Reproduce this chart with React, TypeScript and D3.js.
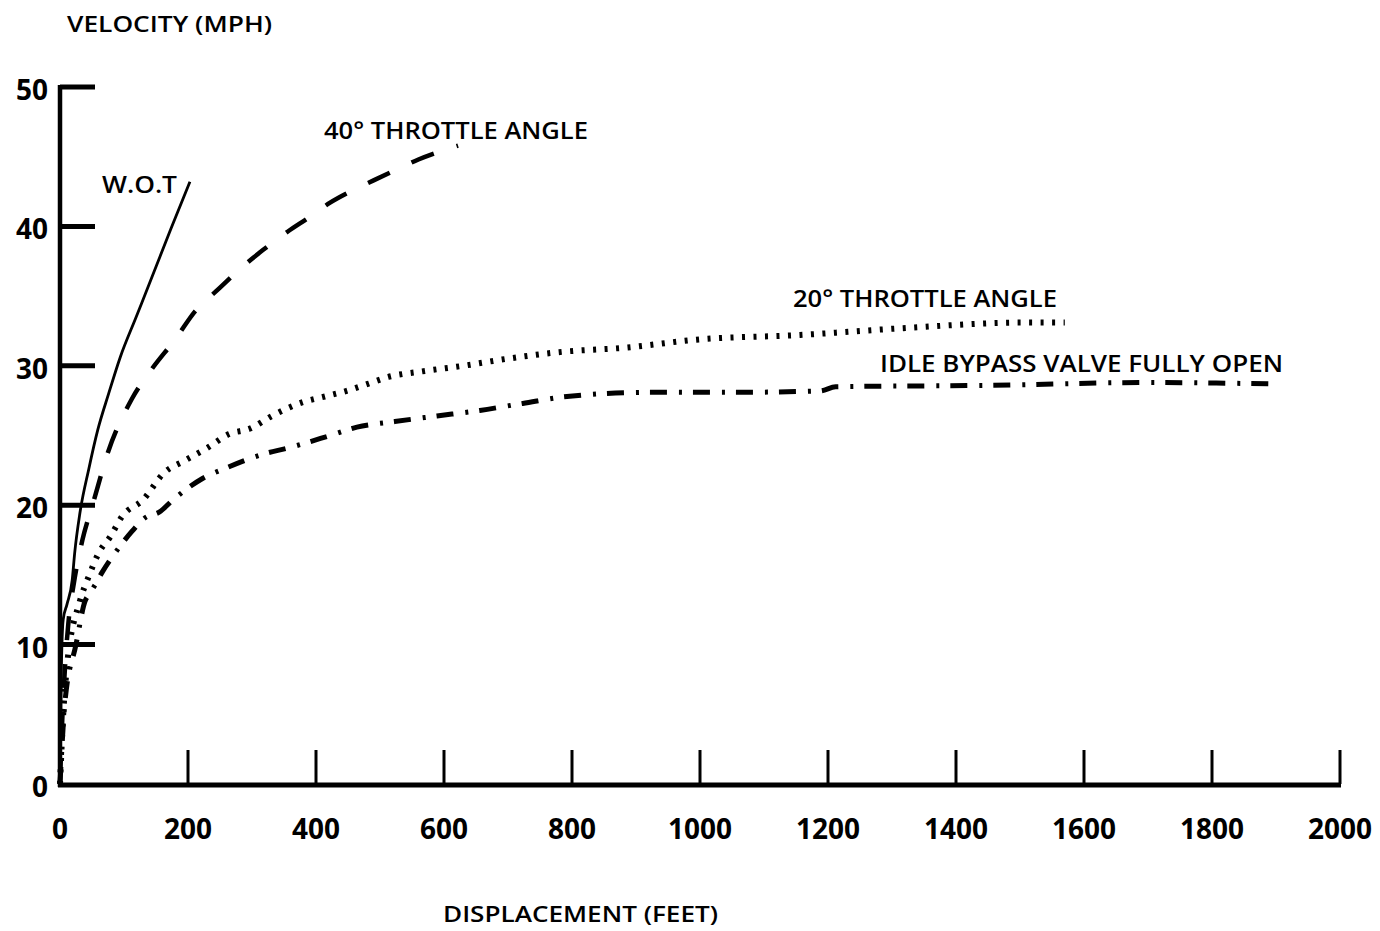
import React from "react";
import * as d3 from "d3";

// ---- data ----
const xTickValues = [0, 200, 400, 600, 800, 1000, 1200, 1400, 1600, 1800, 2000];
const yTickValues = [0, 10, 20, 30, 40, 50];

const wotX = [0, 1, 2, 5, 11, 19, 23, 31, 45, 59, 76, 94, 119, 144, 173, 203];
const wotY = [0, 4, 8, 11.8, 12.9, 14.6, 16.6, 19.4, 22.6, 25.4, 28.0, 30.6, 33.5, 36.4, 39.8, 43.2];

const t40X = [0, 3, 8, 13, 22, 35, 52, 75, 112, 144, 180, 211, 250, 280, 317, 355, 391, 422, 458, 490, 527, 560, 595, 622];
const t40Y = [0, 4, 8.5, 11.5, 14.5, 17.5, 20.2, 23.8, 27.6, 29.8, 31.9, 33.9, 35.6, 36.9, 38.3, 39.6, 40.7, 41.7, 42.6, 43.3, 44.1, 44.8, 45.4, 45.8];

const t20X = [0, 5, 11, 31, 45, 62, 78, 97, 130, 162, 195, 230, 264, 297, 331, 380, 414, 448, 481, 513, 566, 630, 698, 784, 883, 1000, 1152, 1317, 1505, 1570];
const t20Y = [0, 5, 8.5, 13.1, 14.9, 16.7, 17.7, 19.2, 20.4, 22.3, 23.2, 24.1, 25.1, 25.5, 26.4, 27.4, 27.8, 28.2, 28.7, 29.2, 29.6, 30.0, 30.5, 31.0, 31.3, 31.9, 32.2, 32.7, 33.1, 33.1];

const idleX = [0, 8, 25, 39, 47, 55, 66, 88, 112, 133, 155, 177, 222, 261, 320, 356, 422, 464, 523, 589, 656, 723, 792, 925, 1060, 1188, 1212, 1458, 1692, 1898];
const idleY = [0, 6, 10, 13.1, 13.7, 14.3, 15.2, 16.7, 18.1, 19.1, 19.5, 20.4, 21.9, 22.7, 23.7, 24.1, 25.0, 25.6, 26.0, 26.4, 26.8, 27.3, 27.8, 28.1, 28.1, 28.2, 28.5, 28.6, 28.8, 28.7];

const seriesNames = ["W.O.T", "40° THROTTLE ANGLE", "20° THROTTLE ANGLE", "IDLE BYPASS VALVE FULLY OPEN"];
const xTitle = "DISPLACEMENT (FEET)";
const yTitle = "VELOCITY (MPH)";

// ---- layout ----
const W = 1380;
const H = 931;
const FONT = "'Open Sans', 'Noto Sans', sans-serif";

const x = d3.scaleLinear().domain([0, 2000]).range([60, 1340]);
const y = d3.scaleLinear().domain([0, 50]).range([784, 87]);

const zip = (xs: number[], ys: number[]) => xs.map((v, i) => [v, ys[i]] as [number, number]);

const lineGen = d3
  .line<[number, number]>()
  .x((d) => x(d[0]))
  .y((d) => y(d[1]))
  .curve(d3.curveMonotoneX);

const seriesStyles = [
  { data: zip(wotX, wotY), width: 2.8, dash: "none" },
  { data: zip(t40X, t40Y), width: 4.5, dash: "24 24" },
  { data: zip(t20X, t20Y), width: 6, dash: "3 8.5" },
  { data: zip(idleX, idleY), width: 5, dash: "17 12 3 11" },
];

// label placement (left x px, baseline y px, target width px)
const labelLayout = [
  { left: 102, base: 193, w: 75 },
  { left: 324, base: 139, w: 264 },
  { left: 793, base: 307, w: 264 },
  { left: 880, base: 372, w: 403 },
];

export default function App() {
  return (
    <svg
      width={W}
      height={H}
      style={{ position: "absolute", left: 0, top: 0, background: "#fff" }}
      fontFamily={FONT}
    >
      <rect x={0} y={0} width={W} height={H} fill="#fff" />

      {/* axes */}
      <line x1={x(0)} y1={y(50) - 2} x2={x(0)} y2={y(0) + 3} stroke="#000" strokeWidth={4.5} />
      <line x1={x(0) - 2} y1={y(0) + 1} x2={x(2000) + 1} y2={y(0) + 1} stroke="#000" strokeWidth={5} />

      {yTickValues.filter((v) => v > 0).map((v) => (
        <line key={"yt" + v} x1={x(0)} x2={x(0) + 35} y1={y(v)} y2={y(v)} stroke="#000" strokeWidth={5} />
      ))}
      {xTickValues.filter((v) => v > 0).map((v) => (
        <line key={"xt" + v} x1={x(v)} x2={x(v)} y1={y(0) - 34} y2={y(0)} stroke="#000" strokeWidth={3} />
      ))}

      {yTickValues.map((v) => (
        <text
          key={"yl" + v}
          x={48}
          y={y(v) + 13}
          textAnchor="end"
          fontSize={28}
          fontWeight={700}
          fill="#000"
        >
          {v}
        </text>
      ))}
      {xTickValues.map((v) => (
        <text
          key={"xl" + v}
          x={x(v)}
          y={839}
          textAnchor="middle"
          fontSize={28}
          fontWeight={700}
          fill="#000"
        >
          {v}
        </text>
      ))}

      <text x={67} y={32} fontSize={21} fontWeight={600} fill="#000" textLength={205} lengthAdjust="spacingAndGlyphs">
        {yTitle}
      </text>
      <text x={443} y={922} fontSize={21} fontWeight={600} fill="#000" textLength={275} lengthAdjust="spacingAndGlyphs">
        {xTitle}
      </text>

      {/* series */}
      {seriesStyles.map((s, i) => (
        <path
          key={"s" + i}
          d={lineGen(s.data) || ""}
          fill="none"
          stroke="#000"
          strokeWidth={s.width}
          strokeDasharray={s.dash}
          strokeLinecap="butt"
        />
      ))}

      {seriesNames.map((name, i) => (
        <text
          key={"lab" + i}
          x={labelLayout[i].left}
          y={labelLayout[i].base}
          fontSize={24}
          fontWeight={600}
          fill="#000"
          textLength={labelLayout[i].w}
          lengthAdjust="spacingAndGlyphs"
        >
          {name}
        </text>
      ))}
    </svg>
  );
}
